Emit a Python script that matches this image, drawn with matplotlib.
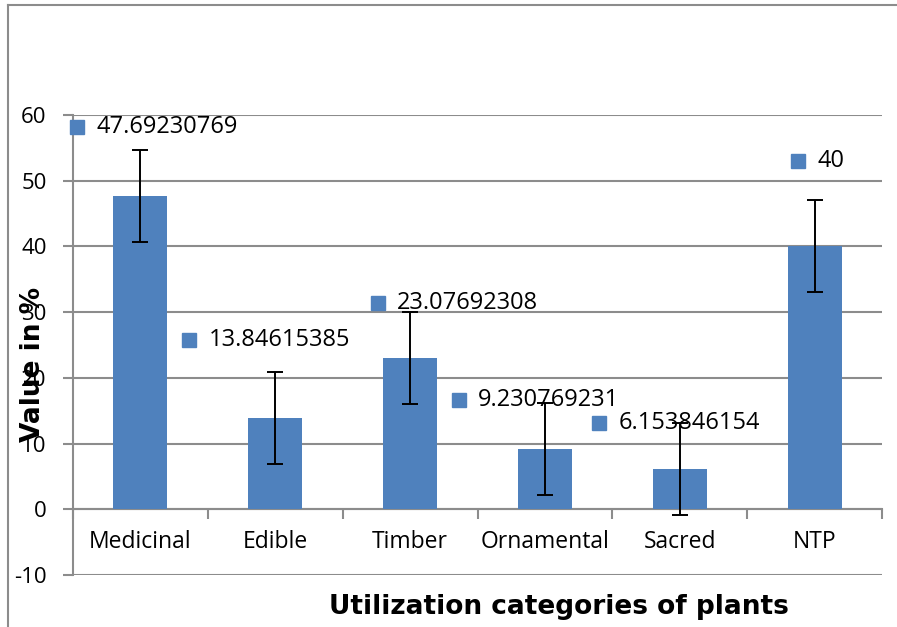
import matplotlib
matplotlib.use("Agg")
import matplotlib.pyplot as plt
from matplotlib.lines import Line2D
import numpy as np

categories = ["Medicinal", "Edible", "Timber", "Ornamental", "Sacred", "NTP"]
values = [47.69230769, 13.84615385, 23.07692308, 9.230769231, 6.153846154, 40]
value_texts = ["47.69230769", "13.84615385", "23.07692308", "9.230769231", "6.153846154", "40"]
errors = [7, 7, 7, 7, 7, 7]
# data-label anchor positions (x offset in category units, y in data units)
label_dx = [-0.47, -0.64, -0.24, -0.64, -0.60, -0.12]
label_y = [58.2, 25.7, 31.4, 16.6, 13.2, 53.0]
yticks = [-10, 0, 10, 20, 30, 40, 50, 60]

W, H = 897, 627
fig = plt.figure(figsize=(W / 100, H / 100), dpi=100)
fig.patch.set_facecolor("white")
ax = fig.add_axes([73 / W, 1 - 575 / H, (882 - 73) / W, (575 - 115) / H])

FONT = "Open Sans"
bar_color = "#4F81BD"
grid_color = "#8C8C8C"

x = np.arange(len(categories))
ax.bar(x, values, width=0.4, color=bar_color, zorder=2)
ax.errorbar(x, values, yerr=errors, fmt="none", ecolor="black", elinewidth=1.4,
            capsize=5.5, capthick=1.4, zorder=3)

ax.set_xlim(-0.5, len(categories) - 0.5)
ax.set_ylim(-10, 60)
ax.set_yticks(yticks)
ax.set_yticklabels([str(t) for t in yticks], fontsize=16, family=FONT)
ax.yaxis.grid(True, color=grid_color, linewidth=1.5, zorder=0)
ax.set_axisbelow(True)
ax.tick_params(axis="y", length=7, width=1.5, color=grid_color, pad=12)

for s in ["top", "right"]:
    ax.spines[s].set_visible(False)
ax.spines["left"].set_color(grid_color)
ax.spines["left"].set_linewidth(1.5)
ax.spines["bottom"].set_position(("data", 0))
ax.spines["bottom"].set_color(grid_color)
ax.spines["bottom"].set_linewidth(1.5)
ax.spines["bottom"].set_zorder(1)

ax.set_xticks(x)
ax.set_xticklabels(categories, fontsize=16.5, family=FONT)
ax.tick_params(axis="x", which="major", length=0, pad=15)
ax.set_xticks(np.arange(-0.5, len(categories), 1.0), minor=True)
ax.tick_params(axis="x", which="minor", length=7, width=1.5, color=grid_color)

for i in range(len(categories)):
    lx = x[i] + label_dx[i]
    ax.plot([lx], [label_y[i]], marker="s", ms=10.5, color=bar_color,
            linestyle="none", zorder=4, clip_on=False)
    ax.annotate(value_texts[i], (lx, label_y[i]), xytext=(14, 0),
                textcoords="offset points", va="center", ha="left",
                fontsize=17, family=FONT, zorder=4)

fig.text(33 / W, 1 - 364 / H, "Value in %", rotation=90, ha="center", va="center",
         fontsize=19, fontweight="bold", family="DejaVu Sans")
fig.text(559 / W, 1 - 607 / H, "Utilization categories of plants", ha="center",
         va="center", fontsize=19, fontweight="bold", family="DejaVu Sans")

# outer chart frame (top and left edges)
fig.add_artist(Line2D([8 / W, 1.0], [1 - 5 / H, 1 - 5 / H], transform=fig.transFigure,
                      color=grid_color, linewidth=1.5))
fig.add_artist(Line2D([8 / W, 8 / W], [0, 1 - 5 / H], transform=fig.transFigure,
                      color=grid_color, linewidth=1.5))

fig.savefig("out.png", dpi=100)
